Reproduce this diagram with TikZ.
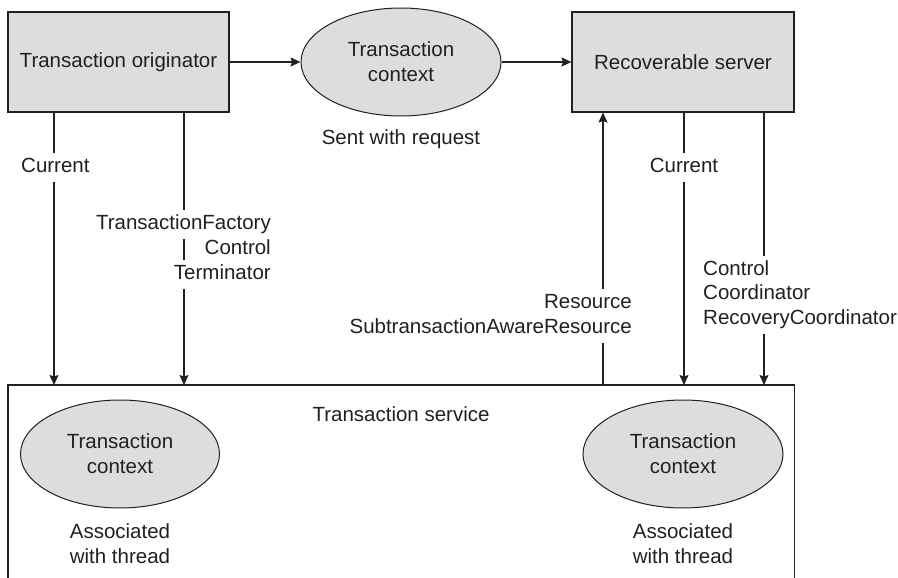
\documentclass[tikz,border=0pt]{standalone}
\usepackage{fontspec}
\setmainfont{Liberation Sans}
\usetikzlibrary{shapes.geometric,arrows.meta}
\definecolor{ink}{RGB}{35,31,32}
\definecolor{shade}{RGB}{220,221,223}
\begin{document}
\begin{tikzpicture}[x=1pt,y=-1pt,
  every node/.style={text=ink,font=\fontsize{20.5}{25}\selectfont},
  box/.style={draw=ink,fill=shade,line width=1.1pt,rectangle,minimum width=221pt,minimum height=100pt,inner sep=0pt},
  ctx/.style={draw=ink,fill=shade,line width=1pt,ellipse,minimum width=200pt,minimum height=108pt,inner sep=0pt,align=center},
  conn/.style={draw=ink,line width=1.1pt},
  arr/.style={conn,-{Stealth[length=10pt,width=9pt,inset=1.5pt]}},
  lbl/.style={fill=white,inner xsep=1pt,inner ysep=5pt,text height=15pt,text depth=4.5pt},
  plain/.style={align=center,inner sep=0pt}]
\useasboundingbox (0,0) rectangle (898,578);
% top row
\node[box] (orig) at (118.5,62) {Transaction originator};
\node[ctx] (ctx1) at (401,62) {Transaction\\context};
\node[box,minimum width=222pt] (rs) at (683,62) {Recoverable server};
\node[plain] (sent) at (401,139) {Sent with request};
\draw[arr] (orig) -- (ctx1);
\draw[arr] (ctx1) -- (rs);
% service box
\node[rectangle,minimum width=786pt,minimum height=193pt,inner sep=0pt,anchor=north west] (svc) at (8,385) {};
\draw[conn] (svc.south west) -- (svc.north west) -- (svc.north east) -- (svc.south east);
\node[plain] (svct) at (401,414) {Transaction service};
\node[ctx,minimum width=199pt] (ctx2) at (120,454) {Transaction\\context};
\node[plain] (as2) at (120,544) {Associated\\with thread};
\node[ctx] (ctx3) at (683,454) {Transaction\\context};
\node[plain] (as3) at (683,544) {Associated\\with thread};
% vertical connectors
\coordinate (xa) at (54,0);
\coordinate (xb) at (184,0);
\coordinate (xc) at (603,0);
\coordinate (xd) at (684,0);
\coordinate (xe) at (764,0);
\draw[arr] (orig.south -| xa) -- (svc.north -| xa);
\draw[arr] (orig.south -| xb) -- (svc.north -| xb);
\draw[arr] (svc.north -| xc) -- (rs.south -| xc);
\draw[arr] (rs.south -| xd) -- (svc.north -| xd);
\draw[arr] (rs.south -| xe) -- (svc.north -| xe);
% labels
\node[lbl,anchor=base west] (cur1) at (20,172.5) {Current};
\node[lbl,anchor=base] (cur2) at (684,172.5) {Current};
\node[lbl,anchor=base east] (tf) at (272,229.5) {TransactionFactory};
\node[lbl,anchor=base east] (ctl1) at (272,254.5) {Control};
\node[lbl,anchor=base east] (term) at (272,279.5) {Terminator};
\node[lbl,anchor=base east] (res) at (633,308.5) {Resource};
\node[lbl,anchor=base east] (sar) at (633,333) {SubtransactionAwareResource};
\node[lbl,anchor=base west] (ctl2) at (702,275.5) {Control};
\node[lbl,anchor=base west] (coord) at (702,299.5) {Coordinator};
\node[lbl,anchor=base west] (rcoord) at (702,324.5) {RecoveryCoordinator};
\end{tikzpicture}
\end{document}
